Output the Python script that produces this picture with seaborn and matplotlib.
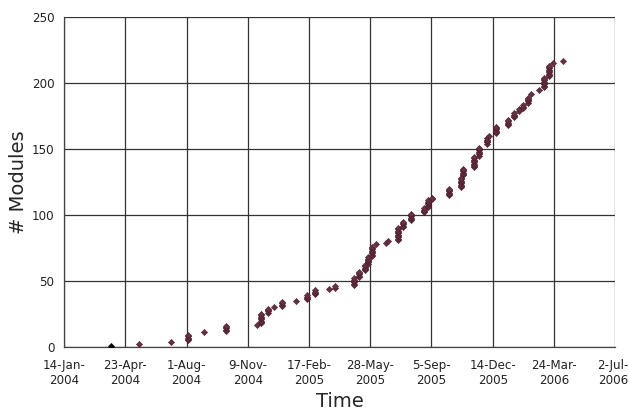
import matplotlib
matplotlib.use("Agg")
import matplotlib.pyplot as plt
import matplotlib.transforms as mtransforms
import seaborn as sns
import pandas as pd

# Release dates and cumulative module counts at each date
release_dates = [
    "2004-03-31", "2004-05-16", "2004-07-07", "2004-08-04", "2004-08-30",
    "2004-10-05", "2004-11-24", "2004-12-01", "2004-12-12", "2004-12-22",
    "2005-01-04", "2005-01-27", "2005-02-14", "2005-02-27", "2005-03-22",
    "2005-04-01", "2005-05-02", "2005-05-10", "2005-05-20", "2005-05-25",
    "2005-05-31", "2005-06-07", "2005-06-22", "2005-06-26", "2005-07-13",
    "2005-07-21", "2005-08-03", "2005-08-23", "2005-08-31", "2005-09-06",
    "2005-10-04", "2005-10-24", "2005-10-27", "2005-11-14", "2005-11-22",
    "2005-12-05", "2005-12-08", "2005-12-20", "2006-01-08", "2006-01-18",
    "2006-01-26", "2006-02-02", "2006-02-09", "2006-02-15", "2006-02-28",
    "2006-03-08", "2006-03-16", "2006-03-23", "2006-04-07",
]
module_counts = [
    [1], [2], [4], [5, 6, 7, 8, 9], [11],
    [12, 13, 14, 15, 16], [17], [18, 19, 20, 21, 22, 23, 24, 25], [26, 27, 28, 29], [30],
    [31, 32, 33, 34], [35], [36, 37, 38, 39], [40, 41, 42, 43], [44],
    [45, 46], [47, 48, 49, 50, 51, 52], [53, 54, 55, 56, 57], [58, 59, 60, 61, 62], [63, 64, 65, 66, 67, 68],
    [69, 70, 71, 72, 73, 74, 75, 76], [78], [79], [80], [81, 82, 83, 84, 85, 86, 87, 88, 89, 90],
    [91, 92, 93, 94, 95], [96, 97, 98, 99, 100, 101], [102, 103, 104, 105], [106, 107, 108, 109, 110, 111], [112, 113],
    [115, 116, 117, 118, 119, 120], [121, 122, 123, 124, 125, 126, 127, 128], [130, 131, 132, 133, 134, 135],
    [136, 137, 138, 139, 140, 141, 142, 143, 144], [145, 146, 147, 148, 149, 150, 151],
    [154, 155, 156, 157, 158], [160], [162, 163, 164, 165, 166, 167], [168, 169, 170, 171, 172], [174, 175, 176, 177],
    [179, 180], [181, 182, 183], [185, 186, 187, 188, 189], [192], [195],
    [197, 198, 199, 200, 201, 202, 203, 204], [205, 206, 207, 208, 209, 210, 211, 212, 213], [215], [217],
]

tick_dates = ["2004-01-14", "2004-04-23", "2004-08-01", "2004-11-09", "2005-02-17",
              "2005-05-28", "2005-09-05", "2005-12-14", "2006-03-24", "2006-07-02"]
tick_labels = ["14-Jan-\n2004", "23-Apr-\n2004", "1-Aug-\n2004", "9-Nov-\n2004", "17-Feb-\n2005",
               "28-May-\n2005", "5-Sep-\n2005", "14-Dec-\n2005", "24-Mar-\n2006", "2-Jul-\n2006"]
y_ticks = [0, 50, 100, 150, 200, 250]

rows = []
for d, vals in zip(release_dates, module_counts):
    for v in vals:
        rows.append({"date": pd.Timestamp(d), "modules": v})
df = pd.DataFrame(rows)

sns.set_style("white")
plt.rcParams["font.family"] = ["DejaVu Sans"]

fig = plt.figure(figsize=(6.29, 4.15), dpi=100)
ax = fig.add_axes([0.102, 0.164, 0.876, 0.795])

sns.scatterplot(data=df.iloc[1:], x="date", y="modules", marker="D", s=10,
                color="#6b2f40", edgecolor="#4a2030", linewidth=0.4, ax=ax, zorder=3)
sns.scatterplot(data=df.iloc[:1], x="date", y="modules", marker="D", s=10,
                color="black", edgecolor="black", linewidth=0.4, ax=ax, zorder=3)

tick_ts = [pd.Timestamp(t) for t in tick_dates]
ax.set_xlim(tick_ts[0], tick_ts[-1])
ax.set_ylim(0, 250)
ax.set_xticks(tick_ts)
ax.set_yticks(y_ticks)

ax.grid(True, color="#333333", linewidth=0.9)
ax.set_axisbelow(True)
for side in ["top", "right"]:
    ax.spines[side].set_visible(False)
for side in ["left", "bottom"]:
    ax.spines[side].set_color("#444444")
    ax.spines[side].set_linewidth(0.9)
ax.tick_params(axis="both", direction="inout", length=8, width=0.9, color="#444444")
ax.tick_params(axis="x", pad=5)
ax.tick_params(axis="y", pad=3)

ax.set_xticklabels(tick_labels, fontsize=8.6, color="#222222", linespacing=1.15)
ax.set_yticklabels([str(v) for v in y_ticks], fontsize=8.6, color="#222222")

# nudge the last x tick label inward so it stays inside the figure
last = ax.xaxis.get_major_ticks()[-1].label1
last.set_transform(last.get_transform() +
                   mtransforms.ScaledTranslation(-2 / 100, 0, fig.dpi_scale_trans))

ax.set_xlabel("Time", fontsize=14, labelpad=4)
ax.set_ylabel("# Modules", fontsize=14, labelpad=3)

fig.savefig("out.png", dpi=100)
